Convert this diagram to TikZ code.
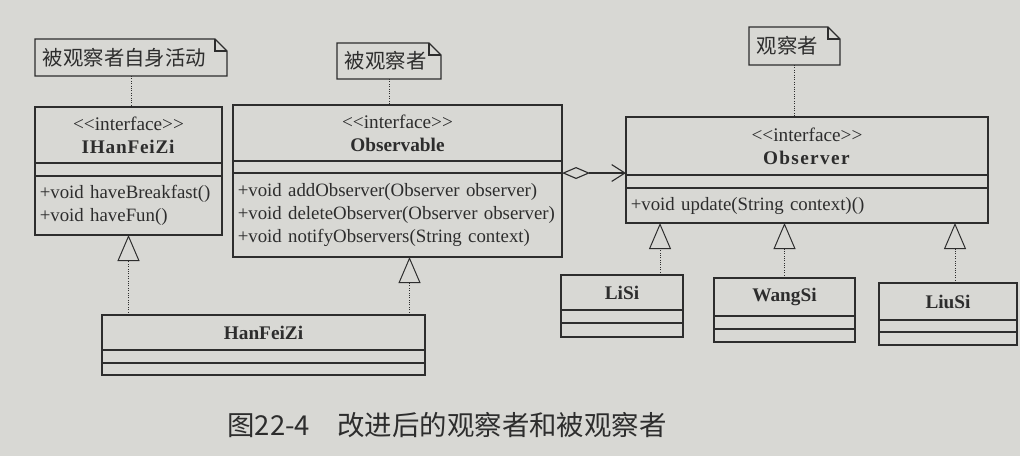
\documentclass[tikz,border=0pt]{standalone}
\usepackage{fontspec}
\setmainfont{Liberation Serif}
\newfontfamily\cjk{Noto Sans CJK SC}
\usetikzlibrary{arrows.meta}
\usetikzlibrary{positioning}
\definecolor{ink}{RGB}{45,45,45}
\definecolor{paper}{RGB}{216,216,212}
\tikzset{box/.style = {draw=ink, line width=0.8pt, outer sep=0, inner sep=0, text=ink}}
\tikzset{head/.style = {box, align=center, anchor=north, font=\fontsize{13.7}{16.4}\selectfont}}
\tikzset{ops/.style = {box, inner xsep=0.12cm, align=left, font=\fontsize{13.4}{16.4}\selectfont}}
\tikzset{note/.style = {inner xsep=0.2cm, inner ysep=0, outer sep=0, align=left, text=ink, font=\cjk\fontsize{14.5}{16}\selectfont}}
\tikzset{tie/.style = {ink, densely dotted, line width=0.7pt}}
\tikzset{impl/.style = {tie, -{Triangle[open, length=0.65cm, width=0.55cm]}}}
\tikzset{aggr/.style = {ink, line width=0.8pt, {Diamond[open, length=0.7cm, width=0.3cm]}-{Straight Barb[length=0.33cm, width=0.42cm]}}}

\begin{document}
\begin{tikzpicture}[x=0.025cm, y=-0.025cm]
      \fill[paper] (0,0) rectangle (1020,456);
      \useasboundingbox (0,0) rectangle (1020,456);
      % notes
      \node[note, text width=4.4cm, minimum height=0.925cm] (n1) at (131,57.5) {被观察者自身活动};
      \node[note, text width=2.2cm, minimum height=0.9cm] (n2) at (389,61) {被观察者};
      \node[note, text width=1.875cm, minimum height=0.95cm] (n3) at (794.5,46) {观察者};
      \draw[box] (n1.south west) -- (n1.north west) -- ([xshift=-0.3cm]n1.north east) -- ([yshift=-0.3cm]n1.north east) -- (n1.south east) -- cycle;
      \draw[box] ([xshift=-0.3cm]n1.north east) |- ([yshift=-0.3cm]n1.north east);
      \draw[box] (n2.south west) -- (n2.north west) -- ([xshift=-0.3cm]n2.north east) -- ([yshift=-0.3cm]n2.north east) -- (n2.south east) -- cycle;
      \draw[box] ([xshift=-0.3cm]n2.north east) |- ([yshift=-0.3cm]n2.north east);
      \draw[box] (n3.south west) -- (n3.north west) -- ([xshift=-0.3cm]n3.north east) -- ([yshift=-0.3cm]n3.north east) -- (n3.south east) -- cycle;
      \draw[box] ([xshift=-0.3cm]n3.north east) |- ([yshift=-0.3cm]n3.north east);
      % interfaces
      \node[head, minimum width=4.675cm, minimum height=1.4cm] (ihan) at (128.5,107) {<{}<interface>{}>\\ \textbf{\addfontfeature{LetterSpace=4}IHanFeiZi}};
      \node[box, minimum width=4.675cm, minimum height=0.325cm, below=0pt of ihan] (ihan-a) {};
      \node[ops, text width=4.435cm, minimum height=1.475cm, below=0pt of ihan-a] (ihan-o) {+void haveBreakfast()\\+void haveFun()};
      \node[head, minimum width=8.225cm, minimum height=1.4cm] (obs) at (397.5,105) {<{}<interface>{}>\\ \textbf{Observable}};
      \node[box, minimum width=8.225cm, minimum height=0.3cm, below=0pt of obs] (obs-a) {};
      \node[ops, text width=7.985cm, minimum height=2.1cm, below=0pt of obs-a] (obs-o) {+void addObserver(Observer observer)\\+void deleteObserver(Observer observer)\\+void notifyObservers(String context)};
      \node[head, minimum width=9.05cm, minimum height=1.45cm] (obsr) at (807,117) {<{}<interface>{}>\\ \textbf{\addfontfeature{LetterSpace=7}Observer}};
      \node[box, minimum width=9.05cm, minimum height=0.325cm, below=0pt of obsr] (obsr-a) {};
      \node[ops, text width=8.81cm, minimum height=0.875cm, below=0pt of obsr-a] (obsr-o) {+void update(String context)()};
      % classes
      \node[head, minimum width=8.075cm, minimum height=0.875cm] (hfz) at (263.5,315) {\textbf{HanFeiZi}};
      \node[box, minimum width=8.075cm, minimum height=0.325cm, below=0pt of hfz] (hfz-a) {};
      \node[box, minimum width=8.075cm, minimum height=0.3cm, below=0pt of hfz-a] (hfz-o) {};
      \node[head, minimum width=3.05cm, minimum height=0.875cm] (lisi) at (622,275) {\textbf{LiSi}};
      \node[box, minimum width=3.05cm, minimum height=0.325cm, below=0pt of lisi] (lisi-a) {};
      \node[box, minimum width=3.05cm, minimum height=0.35cm, below=0pt of lisi-a] (lisi-o) {};
      \node[head, minimum width=3.525cm, minimum height=0.95cm] (wang) at (784.5,278) {\textbf{WangSi}};
      \node[box, minimum width=3.525cm, minimum height=0.325cm, below=0pt of wang] (wang-a) {};
      \node[box, minimum width=3.525cm, minimum height=0.325cm, below=0pt of wang-a] (wang-o) {};
      \node[head, minimum width=3.45cm, minimum height=0.925cm] (liu) at (948,283) {\textbf{LiuSi}};
      \node[box, minimum width=3.45cm, minimum height=0.3cm, below=0pt of liu] (liu-a) {};
      \node[box, minimum width=3.45cm, minimum height=0.325cm, below=0pt of liu-a] (liu-o) {};
      % links
      \draw[tie] (n1.south) -- (n1.south |- ihan.north);
      \draw[tie] (n2.south) -- (n2.south |- obs.north);
      \draw[tie] (n3.south) -- (n3.south |- obsr.north);
      \draw[impl] (ihan-o.south |- hfz.north) -- (ihan-o.south);
      \draw[impl] ([xshift=0.3cm]obs-o.south |- hfz.north) -- ([xshift=0.3cm]obs-o.south);
      \draw[impl] ([xshift=0.95cm]lisi.north) -- ([xshift=0.95cm]lisi.north |- obsr-o.south);
      \draw[impl] (wang.north) -- (wang.north |- obsr-o.south);
      \draw[impl] ([xshift=0.175cm]liu.north) -- ([xshift=0.175cm]liu.north |- obsr-o.south);
      \draw[aggr] (obs-a.south east) -- (obs-a.south east -| obsr.west);
      \node[text=ink, font=\cjk\fontsize{19.5}{22}\selectfont] (cap) at (447,425) {图22-4\quad 改进后的观察者和被观察者};
    \end{tikzpicture}
\end{document}
